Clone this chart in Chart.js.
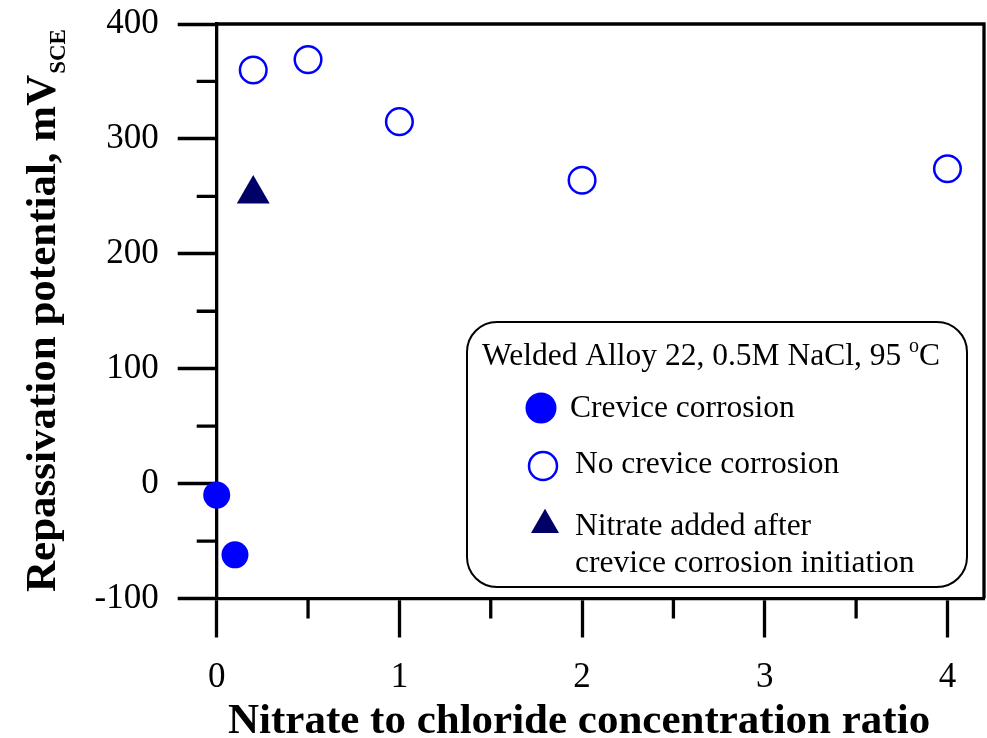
<!DOCTYPE html>
<html><head><meta charset="utf-8">
<script src="https://cdn.jsdelivr.net/npm/chart.js@4.4.1/dist/chart.umd.min.js"></script>
<style>html,body{margin:0;padding:0;background:#fff}#wrap{width:987px;height:738px;position:relative}canvas{display:block}</style>
</head><body><div id="wrap"><canvas id="c" width="987" height="738"></canvas></div>
<script>
// ---- data ----
const crevX = [0, 0.1];
const crevY = [-10, -62];
const noCrevX = [0.2, 0.5, 1, 2, 4];
const noCrevY = [360, 369, 315, 264, 274];
const nitrateX = [0.2];
const nitrateY = [252];
const xTicks = [0, 1, 2, 3, 4];
const xMinorTicks = [0.5, 1.5, 2.5, 3.5];
const yTicks = [-100, 0, 100, 200, 300, 400];
const yMinorTicks = [-50, 50, 150, 250, 350];
const seriesNames = ['Crevice corrosion', 'No crevice corrosion', 'Nitrate added after', 'crevice corrosion initiation'];
const legendTitleMain = 'Welded Alloy 22, 0.5M NaCl, 95 ';
const legendTitleSup = 'o';
const legendTitleEnd = 'C';
const xTitle = 'Nitrate to chloride concentration ratio';
const yTitle = 'Repassivation potential, mV';
const yTitleSub = 'SCE';

const FAM = '"Liberation Serif", "Times New Roman", Times, serif';
const BLUE = '#0000ff';
const NAVY = '#000066';
const LW = 3.3;

function pts(xs, ys) { return xs.map((x, i) => ({ x: x, y: ys[i] })); }

const decor = {
  id: 'decor',
  afterDatasetsDraw(chart) {
    const ctx = chart.ctx, a = chart.chartArea;
    const xs = chart.scales.x, ys = chart.scales.y;
    ctx.save();
    ctx.strokeStyle = '#000';
    ctx.lineWidth = LW;
    ctx.lineCap = 'butt';
    // top and right frame lines
    ctx.beginPath();
    ctx.moveTo(a.left, a.top); ctx.lineTo(a.right, a.top);
    ctx.moveTo(a.right, a.top - LW / 2); ctx.lineTo(a.right, a.bottom);
    ctx.stroke();
    // minor ticks
    ctx.beginPath();
    xMinorTicks.forEach(v => { const p = xs.getPixelForValue(v); ctx.moveTo(p, a.bottom); ctx.lineTo(p, a.bottom + 20); });
    yMinorTicks.forEach(v => { const p = ys.getPixelForValue(v); ctx.moveTo(a.left, p); ctx.lineTo(a.left - 20, p); });
    ctx.stroke();

    // axis titles
    ctx.fillStyle = '#000';
    ctx.textAlign = 'left';
    ctx.textBaseline = 'alphabetic';
    ctx.font = 'bold 43px ' + FAM;
    ctx.fillText(xTitle, 228, 733);
    ctx.save();
    ctx.translate(55, 592);
    ctx.rotate(-Math.PI / 2);
    ctx.font = 'bold 43px ' + FAM;
    ctx.fillText(yTitle, 0, 0);
    const w = ctx.measureText(yTitle).width;
    ctx.font = 'bold 23px ' + FAM;
    ctx.fillText(yTitleSub, w + 1, 10);
    ctx.restore();

    // legend box
    const bx = 467, by = 322, bw = 500, bh = 265, r = 30;
    ctx.lineWidth = 2;
    ctx.beginPath();
    ctx.moveTo(bx + r, by);
    ctx.arcTo(bx + bw, by, bx + bw, by + bh, r);
    ctx.arcTo(bx + bw, by + bh, bx, by + bh, r);
    ctx.arcTo(bx, by + bh, bx, by, r);
    ctx.arcTo(bx, by, bx + bw, by, r);
    ctx.closePath();
    ctx.fillStyle = '#fff';
    ctx.fill();
    ctx.stroke();

    ctx.fillStyle = '#000';
    ctx.font = '31.5px ' + FAM;
    ctx.fillText(legendTitleMain, 482, 365);
    let tw = ctx.measureText(legendTitleMain).width;
    ctx.font = '20px ' + FAM;
    ctx.fillText(legendTitleSup, 482 + tw, 352);
    const sw = ctx.measureText(legendTitleSup).width;
    ctx.font = '31.5px ' + FAM;
    ctx.fillText(legendTitleEnd, 482 + tw + sw, 365);

    ctx.fillText(seriesNames[0], 570, 417);
    ctx.fillText(seriesNames[1], 575, 473);
    ctx.fillText(seriesNames[2], 575, 535);
    ctx.fillText(seriesNames[3], 575, 572);

    // legend markers
    ctx.fillStyle = BLUE;
    ctx.beginPath(); ctx.arc(541, 408, 15.5, 0, Math.PI * 2); ctx.fill();
    ctx.strokeStyle = BLUE; ctx.lineWidth = 2.5;
    ctx.beginPath(); ctx.arc(543, 466, 14, 0, Math.PI * 2); ctx.stroke();
    ctx.fillStyle = NAVY;
    const tr = 16.2, cx = 545, cy = 525;
    ctx.beginPath();
    ctx.moveTo(cx, cy - tr);
    ctx.lineTo(cx + tr * Math.sin(2 * Math.PI / 3), cy + tr / 2);
    ctx.lineTo(cx - tr * Math.sin(2 * Math.PI / 3), cy + tr / 2);
    ctx.closePath(); ctx.fill();
    ctx.restore();
  }
};

new Chart(document.getElementById('c'), {
  type: 'scatter',
  data: {
    datasets: [
      { label: seriesNames[0], data: pts(crevX, crevY), pointStyle: 'circle', pointRadius: 13.5, backgroundColor: BLUE, borderColor: BLUE, borderWidth: 0, clip: false },
      { label: seriesNames[1], data: pts(noCrevX, noCrevY), pointStyle: 'circle', pointRadius: 13.3, backgroundColor: 'rgba(0,0,0,0)', borderColor: BLUE, borderWidth: 2.5, clip: false },
      { label: seriesNames[2] + ' ' + seriesNames[3], data: pts(nitrateX, nitrateY), pointStyle: 'triangle', pointRadius: 19, backgroundColor: NAVY, borderColor: NAVY, borderWidth: 0, clip: false }
    ]
  },
  options: {
    responsive: false,
    devicePixelRatio: 1,
    animation: false,
    layout: { autoPadding: false, padding: { top: 24, right: 3, left: 0, bottom: 0 } },
    plugins: { legend: { display: false }, tooltip: { enabled: false } },
    scales: {
      x: {
        type: 'linear', min: 0, max: 4.2,
        afterBuildTicks: s => { s.ticks = xTicks.map(v => ({ value: v })); },
        afterFit: s => { s.height = 139.5; s.paddingLeft = 0; s.paddingRight = 0; s.paddingTop = 0; s.paddingBottom = 0; },
        grid: { drawOnChartArea: false, drawTicks: true, tickLength: 39, tickWidth: LW, tickColor: '#000' },
        border: { display: true, color: '#000', width: LW },
        ticks: { color: '#000', font: { family: FAM, size: 35 }, padding: 19.5, maxRotation: 0, autoSkip: false }
      },
      y: {
        type: 'linear', min: -100, max: 400,
        afterBuildTicks: s => { s.ticks = yTicks.map(v => ({ value: v })); },
        afterFit: s => { s.width = 216.7; s.paddingLeft = 0; s.paddingRight = 0; s.paddingTop = 0; s.paddingBottom = 0; },
        grid: { drawOnChartArea: false, drawTicks: true, tickLength: 39, tickWidth: LW, tickColor: '#000' },
        border: { display: true, color: '#000', width: LW },
        ticks: { color: '#000', font: { family: FAM, size: 35 }, padding: 19, autoSkip: false }
      }
    }
  },
  plugins: [decor]
});
</script>
</body></html>
